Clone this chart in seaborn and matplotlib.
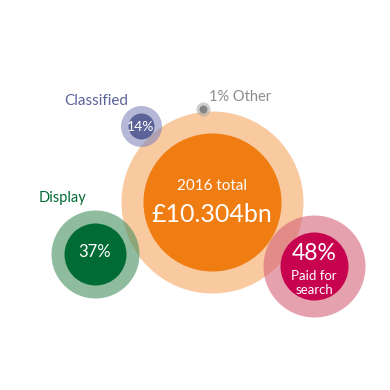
import matplotlib
matplotlib.use("Agg")
import matplotlib.pyplot as plt
import seaborn as sns
import pandas as pd

# ---- data ----
categories = ["2016 total", "Display", "Paid for search", "Classified", "Other"]
shares = [100, 37, 48, 14, 1]
total_label = "£10.304bn"
year_label = "2016 total"

# ---- layout (pixel coordinates, radii) ----
pos_x = [212, 95, 314, 141, 203]
pos_y = [202, 254, 266, 126, 109]
outer_r = [91, 44, 51, 20.5, 7]
inner_r = [69, 31, 34, 13, 4]

outer_colors = ["#f9c9a0", "#45905f", "#d56278", "#8287bb", "#adadad"]
outer_alpha = [1.0, 0.6, 0.6, 0.6, 0.6]
inner_colors = ["#f07d12", "#016b36", "#c7024f", "#5b6399", "#858585"]

sns.set_theme(style="white")
plt.rcParams["font.family"] = ["Lato", "DejaVu Sans"]
FW = "normal"

fig = plt.figure(figsize=(3.9, 3.9), dpi=100)
ax = fig.add_axes([0, 0, 1, 1])
ax.set_xlim(0, 390)
ax.set_ylim(390, 0)
ax.set_axis_off()

pt_per_px = 72 / 100

df = pd.DataFrame({"cat": categories, "share": shares, "x": pos_x, "y": pos_y})

def s_of(r):
    return (2 * r * pt_per_px) ** 2

sns.scatterplot(data=df.iloc[[0]], x="x", y="y", s=s_of(outer_r[0]),
                color=outer_colors[0], alpha=outer_alpha[0], linewidth=0,
                ax=ax, legend=False, zorder=1)
sns.scatterplot(data=df.iloc[[0]], x="x", y="y", s=s_of(inner_r[0]),
                color=inner_colors[0], linewidth=0, ax=ax, legend=False, zorder=2)
for i in [1, 2, 3, 4]:
    sns.scatterplot(data=df.iloc[[i]], x="x", y="y", s=s_of(outer_r[i]),
                    color=outer_colors[i], alpha=outer_alpha[i], linewidth=0,
                    ax=ax, legend=False, zorder=3)
for i in [1, 2, 3, 4]:
    sns.scatterplot(data=df.iloc[[i]], x="x", y="y", s=s_of(inner_r[i]),
                    color=inner_colors[i], linewidth=0, ax=ax, legend=False, zorder=4)

# texts
ax.text(pos_x[0], 186, year_label, color="white", fontsize=11, fontweight=FW,
        ha="center", va="center", zorder=5)
ax.text(pos_x[0], 214, total_label, color="white", fontsize=18, fontweight=FW,
        ha="center", va="center", zorder=5)

ax.text(pos_x[1], 252, f"{shares[1]}%", color="white", fontsize=12, fontweight=FW,
        ha="center", va="center", zorder=5)
ax.text(39, 198, "Display", color=inner_colors[1], fontsize=10.5, fontweight=FW,
        ha="left", va="center", zorder=5)

ax.text(pos_x[2], 253, f"{shares[2]}%", color="white", fontsize=16.5, fontweight=FW,
        ha="center", va="center", zorder=5)
ax.text(pos_x[2], 276, "Paid for", color="white", fontsize=9.5, fontweight=FW,
        ha="center", va="center", zorder=5)
ax.text(pos_x[2], 290, "search", color="white", fontsize=9.5, fontweight=FW,
        ha="center", va="center", zorder=5)

ax.text(pos_x[3], 127, f"{shares[3]}%", color="white", fontsize=10, fontweight=FW,
        ha="center", va="center", zorder=5)
ax.text(64, 101, "Classified", color=inner_colors[3], fontsize=11, fontweight=FW,
        ha="left", va="center", zorder=5)

ax.text(209, 97, f"{shares[4]}% Other", color="#8c8c8c", fontsize=10.5, fontweight=FW,
        ha="left", va="center", zorder=5)

fig.savefig("out.png", dpi=100)
